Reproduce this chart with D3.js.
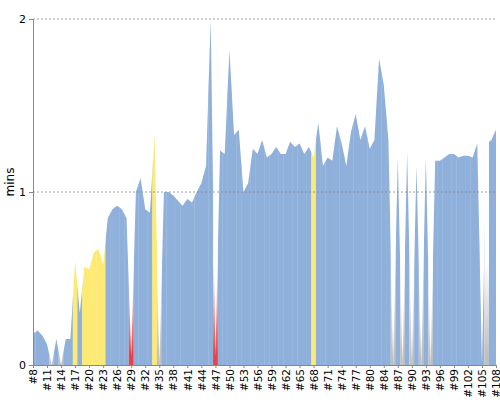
<!DOCTYPE html>
<html><head><meta charset="utf-8">
<script src="https://cdn.jsdelivr.net/npm/d3@7"></script>
<style>body{margin:0;background:#fff}text{font-family:"DejaVu Sans",sans-serif}</style>
</head><body><svg width="500" height="400"></svg>
<script>
// build numbers (#82 missing), durations in minutes and result
var builds = [8,9,10,11,12,13,14,15,16,17,18,19,20,21,22,23,24,25,26,27,28,29,30,31,32,33,34,35,36,37,38,39,40,41,42,43,44,45,46,47,48,49,50,51,52,53,54,55,56,57,58,59,60,61,62,63,64,65,66,67,68,69,70,71,72,73,74,75,76,77,78,79,80,81,83,84,85,86,87,88,89,90,91,92,93,94,95,96,97,98,99,100,101,102,103,104,105,106,107,108]
var durations = [0.18,0.2,0.17,0.12,0,0.15,0,0.15,0.15,0.6,0.3,0.57,0.55,0.65,0.67,0.58,0.85,0.9,0.92,0.9,0.85,0.05,1.0,1.08,0.9,0.88,1.33,0,1.0,1.0,0.98,0.95,0.92,0.96,0.94,1.0,1.05,1.15,2.0,0.05,1.24,1.22,1.82,1.33,1.36,1.0,1.05,1.25,1.22,1.3,1.2,1.22,1.26,1.22,1.22,1.29,1.26,1.28,1.22,1.26,1.2,1.4,1.15,1.2,1.18,1.38,1.28,1.15,1.35,1.45,1.3,1.38,1.25,1.3,1.77,1.62,1.3,0,1.2,0,1.23,0,1.15,0,1.2,0,1.18,1.18,1.2,1.22,1.22,1.2,1.21,1.21,1.2,1.28,0,1.28,1.3,1.36]
// S success, Y unstable, F failed, A aborted
var results = ("SSSS" + "ASAS" + "SYSYYYYY" + "SSSSSF" + "SSSSYA" + "SSSSSSSSSSSF" +
  "SSSSSSSSSSSSSSSSSSSSY" + "SSSSSSSSSSSSSSSS" + "ASASASASA" + "SSSSSSSSSSS" + "ASSS").split("")
var yTicks = [0,1,2]

var svg = d3.select("svg")
var labels = builds.map(function (b) { return "#" + b })
var x = d3.scalePoint().domain(labels).range([33, 496])
var y = d3.scaleLinear().domain([0, 2]).range([365, 19])
var step = x.step()
var colors = {S: "#8fb0da", Y: "#fcea74", F: "#ef3f44", A: "#c0c0c0"}

var defs = svg.append("defs")
;["F", "A"].forEach(function (k) {
  var g = defs.append("linearGradient").attr("id", "g" + k)
    .attr("x1", 0).attr("x2", 0).attr("y1", 1).attr("y2", 0)
  g.append("stop").attr("offset", 0).attr("stop-color", colors[k])
  g.append("stop").attr("offset", 0.1).attr("stop-color", colors[k])
  g.append("stop").attr("offset", 1).attr("stop-color", colors[k]).attr("stop-opacity", 0)
})

var area = d3.area()
  .x(function (d, i) { return x(labels[i]) })
  .y0(y(0))
  .y1(function (d) { return y(d) })
defs.append("clipPath").attr("id", "clip").append("path").attr("d", area(durations))

var slices = svg.append("g").attr("clip-path", "url(#clip)")
durations.forEach(function (d, i) {
  var r = results[i]
  var x0 = Math.max(33, x(labels[i]) - step / 2), x1 = Math.min(496, x(labels[i]) + step / 2)
  slices.append("rect")
    .attr("x", x0).attr("width", x1 - x0 + 0.3)
    .attr("y", y(2)).attr("height", y(0) - y(2))
    .attr("fill", r == "F" || r == "A" ? "#fff" : colors[r])
  if (r == "F" || r == "A") {
    slices.append("rect")
      .attr("x", x0).attr("width", x1 - x0 + 0.3)
      .attr("y", y(0.6)).attr("height", y(0) - y(0.6))
      .attr("fill", "url(#g" + r + ")")
  }
})

svg.append("g").selectAll("line").data(yTicks.slice(1)).enter().append("line")
  .attr("x1", 33).attr("x2", 496)
  .attr("y1", function (d) { return y(d) }).attr("y2", function (d) { return y(d) })
  .attr("stroke", "#888").attr("stroke-dasharray", "2,2").attr("stroke-width", 0.8)

var yAxis = svg.append("g").attr("transform", "translate(33,0)")
  .call(d3.axisLeft(y).tickValues(yTicks).tickFormat(d3.format("d")).tickSize(4))
yAxis.selectAll("text").attr("font-size", 11).attr("fill", "#000")
yAxis.selectAll("path,line").attr("stroke", "#888")

var xAxis = svg.append("g").attr("transform", "translate(0,365)")
  .call(d3.axisBottom(x).tickValues(labels.filter(function (d, i) { return i % 3 == 0 })).tickSize(3).tickSizeOuter(0))
xAxis.selectAll("text").attr("font-size", 10.5).attr("fill", "#000")
  .attr("transform", "rotate(-90)").attr("text-anchor", "end")
  .attr("x", -4).attr("y", 0).attr("dy", "0.35em")
xAxis.selectAll("path,line").attr("stroke", "#888")
xAxis.select("path").attr("d", "M33,0.5H496")

svg.append("text").attr("transform", "translate(14,182) rotate(-90)")
  .attr("text-anchor", "middle").attr("font-size", 12).text("mins")
</script></body></html>
